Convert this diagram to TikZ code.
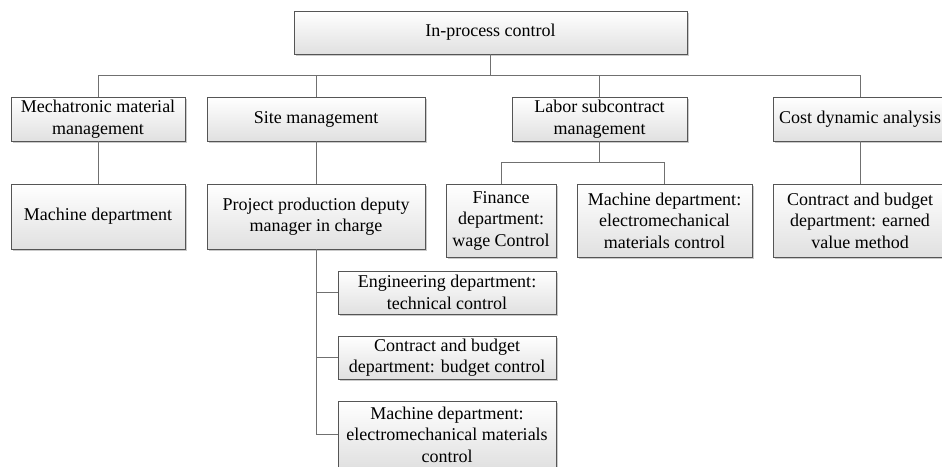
\documentclass[tikz,border=0pt]{standalone}
\usepackage{fontspec}
\setmainfont{Liberation Serif}
\usetikzlibrary{shadows}
\definecolor{boxline}{HTML}{555555}
\definecolor{conline}{HTML}{707070}
\tikzset{
  orgbox/.style={draw=boxline, line width=0.9pt, rectangle, inner sep=0pt,
    top color=white, bottom color=black!12, align=center,
    font=\fontsize{18}{21.5}\selectfont,
    drop shadow={shadow xshift=1.6pt, shadow yshift=-1.6pt, fill=black!35, opacity=0.6}},
  conn/.style={draw=conline, line width=0.9pt}
}
\begin{document}
\begin{tikzpicture}[x=1pt,y=-1pt]
\useasboundingbox (0,0) rectangle (942,466);
% level 0
\node[orgbox, minimum width=393pt, minimum height=43pt] (top) at (490.5,32.5) {In-process control};
% level 1
\node[orgbox, minimum width=174pt, minimum height=44pt] (mech) at (98,119) {Mechatronic material\\management};
\node[orgbox, minimum width=218pt, minimum height=44pt] (site) at (316,119) {Site management};
\node[orgbox, minimum width=175pt, minimum height=44pt] (labor) at (599.5,119) {Labor subcontract\\management};
\node[orgbox, minimum width=174pt, minimum height=44pt] (cost) at (860,119) {Cost dynamic analysis};
% level 2
\node[orgbox, minimum width=174pt, minimum height=65pt] (mach1) at (98,216.5) {Machine department};
\node[orgbox, minimum width=218pt, minimum height=65pt] (proj) at (316,216.5) {Project production deputy\\manager in charge};
\node[orgbox, minimum width=110pt, minimum height=73pt] (fin) at (501,220.5) {Finance\\department:\\wage Control};
\node[orgbox, minimum width=175pt, minimum height=73pt] (mach2) at (664.5,220.5) {Machine department:\\electromechanical\\materials control};
\node[orgbox, minimum width=174pt, minimum height=73pt] (cbe) at (860,220.5) {Contract and budget\\department: earned\\value method};
% level 3
\node[orgbox, minimum width=218pt, minimum height=43pt] (eng) at (447,292.5) {Engineering department:\\technical control};
\node[orgbox, minimum width=218pt, minimum height=43pt] (cbb) at (447,357.5) {Contract and budget\\department: budget control};
\node[orgbox, minimum width=218pt, minimum height=67pt] (mach3) at (447,434.5) {Machine department:\\electromechanical materials\\control};
% connectors
\coordinate (bus1) at (0,75);
\coordinate (bus2) at (0,162);
\draw[conn] (top.south) -- (top.south |- bus1);
\draw[conn] (mech.north) -- (mech.north |- bus1) -- (cost.north |- bus1) -- (cost.north);
\draw[conn] (site.north) -- (site.north |- bus1);
\draw[conn] (labor.north) -- (labor.north |- bus1);
\draw[conn] (mech.south) -- (mach1.north);
\draw[conn] (site.south) -- (proj.north);
\draw[conn] (cost.south) -- (cbe.north);
\draw[conn] (labor.south) -- (labor.south |- bus2);
\draw[conn] (fin.north) -- (fin.north |- bus2) -- (mach2.north |- bus2) -- (mach2.north);
\draw[conn] (proj.south) -- (proj.south |- mach3.west) -- (mach3.west);
\draw[conn] (proj.south |- eng.west) -- (eng.west);
\draw[conn] (proj.south |- cbb.west) -- (cbb.west);
\end{tikzpicture}
\end{document}
